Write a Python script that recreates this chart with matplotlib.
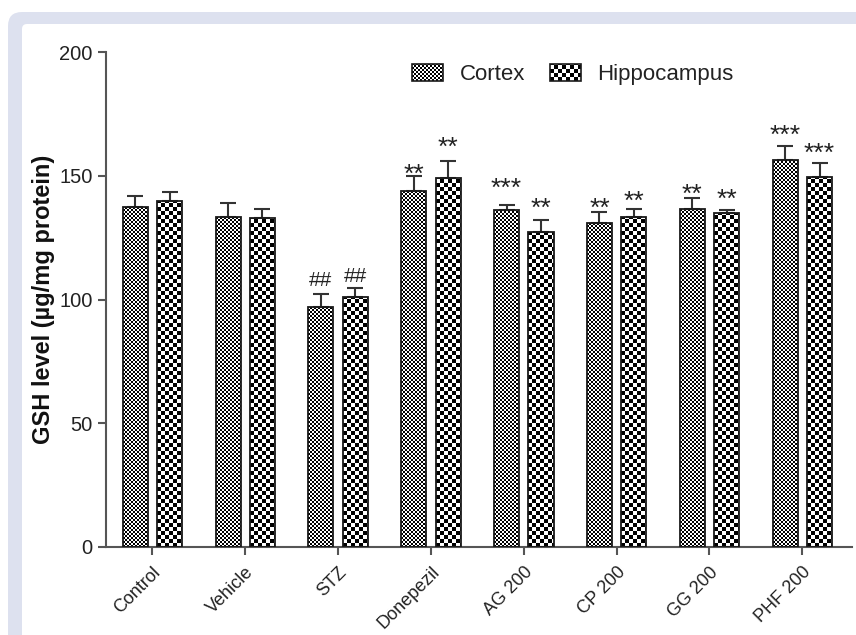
import numpy as np
import matplotlib.pyplot as plt
from matplotlib.patches import FancyBboxPatch, Patch
from matplotlib.transforms import IdentityTransform, ScaledTranslation

plt.rcParams['font.family'] = ['Liberation Sans', 'DejaVu Sans']

groups = ['Control', 'Vehicle', 'STZ', 'Donepezil', 'AG 200', 'CP 200', 'GG 200', 'PHF 200']
cortex = [137.4, 133.3, 97.0, 143.8, 136.2, 130.9, 136.6, 156.4]
cortex_err = [4.4, 5.7, 5.2, 6.1, 2.0, 4.5, 4.4, 5.6]
hippo = [139.8, 132.9, 101.0, 149.1, 127.3, 133.3, 134.9, 149.5]
hippo_err = [3.6, 3.7, 3.6, 6.9, 4.8, 3.3, 1.3, 5.6]

# significance marks and the heights they sit at
cortex_sig = ['', '', '##', '**', '***', '**', '**', '***']
cortex_sig_y = [0, 0, 108.3, 153.9, 147.9, 139.8, 145.5, 169.5]
hippo_sig = ['', '', '##', '**', '**', '**', '**', '***']
hippo_sig_y = [0, 0, 109.9, 164.8, 139.8, 143.0, 143.8, 162.4]

W, H = 856, 635
fig = plt.figure(figsize=(W / 100, H / 100), dpi=100)
fig.patch.set_facecolor('white')

# page frame behind the chart
outer = FancyBboxPatch((8, -60), 920, H - 12 + 60, boxstyle='round,pad=0,rounding_size=14',
                       transform=IdentityTransform(), facecolor='#dde1ef', edgecolor='none', zorder=-3)
inner = FancyBboxPatch((22, -60), 920, H - 24 + 60, boxstyle='round,pad=0,rounding_size=5',
                       transform=IdentityTransform(), facecolor='white', edgecolor='none', zorder=-2)
fig.add_artist(outer)
fig.add_artist(inner)

ax = fig.add_axes([106 / W, 1 - 547 / H, (852 - 106) / W, (547 - 52) / H])
ax.patch.set_visible(False)

x = np.arange(len(groups))
off, bw = 0.185, 0.27
edge = '#1a1a1a'
bars_c = ax.bar(x - off, cortex, bw, facecolor='none', edgecolor=edge, linewidth=1.3, zorder=3)
bars_h = ax.bar(x + off, hippo, bw, facecolor='none', edgecolor=edge, linewidth=1.3, zorder=3)
zeros = np.zeros(len(groups))
ax.errorbar(x - off, cortex, yerr=[zeros, cortex_err], fmt='none', ecolor='#333333',
            elinewidth=1.5, capsize=6, capthick=1.5, zorder=2)
ax.errorbar(x + off, hippo, yerr=[zeros, hippo_err], fmt='none', ecolor='#333333',
            elinewidth=1.5, capsize=6, capthick=1.5, zorder=2)

for xs, marks, ys in [(x - off, cortex_sig, cortex_sig_y), (x + off, hippo_sig, hippo_sig_y)]:
    for xi, m, yi in zip(xs, marks, ys):
        if not m:
            continue
        if m.startswith('#'):
            fs, shift = 15, -0.36
        else:
            fs, shift = 19, -0.58
        ax.annotate(m, (xi, yi), xytext=(0, shift * fs), textcoords='offset points',
                    ha='center', va='baseline', fontsize=fs, color='#222222')

ax.set_xlim(-0.5, 7.535)
ax.set_ylim(0, 200)
ax.set_yticks([0, 50, 100, 150, 200])
ax.set_xticks(x)
ax.set_xticklabels(groups, rotation=45, ha='right', va='top', rotation_mode='anchor')
for lab in ax.get_xticklabels():
    lab.set_transform(lab.get_transform() + ScaledTranslation(6 / 100, 0, fig.dpi_scale_trans))

for s in ['top', 'right']:
    ax.spines[s].set_visible(False)
for s in ['left', 'bottom']:
    ax.spines[s].set_color('#555555')
    ax.spines[s].set_linewidth(1.5)
ax.tick_params(axis='both', length=6, width=1.5, color='#555555', labelcolor='#222222')
ax.tick_params(axis='y', labelsize=14.5, pad=3.5)
ax.tick_params(axis='x', labelsize=13, pad=6)

ax.set_ylabel('GSH level (µg/mg protein)', fontsize=17, fontweight='bold', color='#111111')
ax.yaxis.set_label_coords(-0.0684, 0.5)

handles = [Patch(facecolor='none', edgecolor=edge, linewidth=1.2, label='Cortex'),
           Patch(facecolor='none', edgecolor=edge, linewidth=1.2, label='Hippocampus')]
leg = ax.legend(handles=handles, loc='center', bbox_to_anchor=(0.626, 0.954), ncol=2,
                frameon=False, fontsize=16, handlelength=1.4, handleheight=0.8,
                handletextpad=0.75, columnspacing=1.1)
for t in leg.get_texts():
    t.set_color('#222222')

fig.canvas.draw()
renderer = fig.canvas.get_renderer()


def checker(bbox, cell):
    # pixel checkerboard laid under a bar outline
    x0, y0 = int(round(bbox.x0)), int(round(bbox.y0))
    w = int(round(bbox.x1)) - x0
    h = int(round(bbox.y1)) - y0
    jj, ii = np.meshgrid(np.arange(w), np.arange(h))
    arr = ((ii // cell + jj // cell) % 2).astype(float)
    fig.figimage(arr, xo=x0, yo=y0, cmap='gray', vmin=0, vmax=1, origin='lower', zorder=-1)


for p in bars_c:
    checker(p.get_window_extent(renderer), 2)
for p in bars_h:
    checker(p.get_window_extent(renderer), 4)
checker(leg.legend_handles[0].get_window_extent(renderer), 2)
checker(leg.legend_handles[1].get_window_extent(renderer), 4)

fig.savefig('out.png', dpi=100)
